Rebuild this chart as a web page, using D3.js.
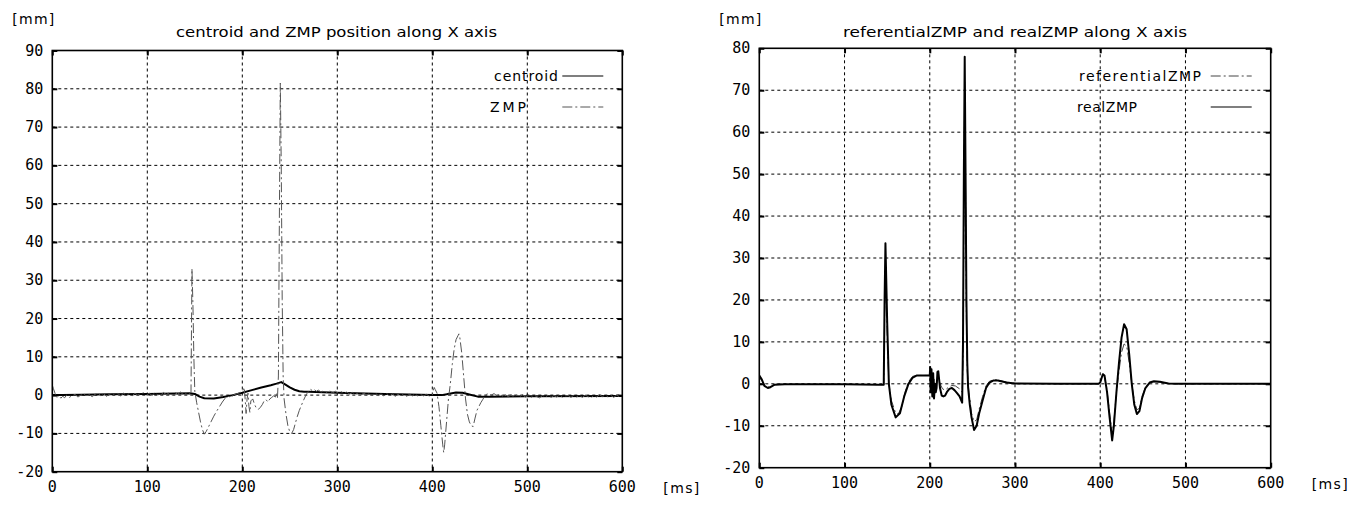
<!DOCTYPE html>
<html>
<head>
<meta charset="utf-8">
<script src="https://cdn.jsdelivr.net/npm/d3@7"></script>
<style>
  body { margin: 0; background: #fff; }
  svg { display: block; }
  .tick-label { font-family: "DejaVu Sans Mono", monospace; font-size: 15px; fill: #000; }
  .txt { font-family: "DejaVu Sans", sans-serif; font-size: 14px; fill: #000; }
</style>
</head>
<body>
<svg id="chart" width="1355" height="510"></svg>
<script>
// left chart: centroid and ZMP along X  [ms, mm]
const centroidX = [[0,0],[10,0],[30,0.1],[60,0.2],[100,0.3],[130,0.4],[145,0.5],[150,0.3],[155,-0.4],[160,-0.8],
  [170,-0.9],[180,-0.5],[190,0],[200,0.6],[210,1.3],[220,2],[230,2.6],[236,3],[241,3.4],[245,2.8],[250,2],[255,1.4],
  [260,1],[265,0.9],[270,0.85],[300,0.6],[350,0.3],[400,0],[410,0],[415,0.2],[425,0.7],[432,0.6],[440,0.1],
  [448,-0.4],[460,-0.4],[500,-0.3],[600,-0.2]];

const zmpX = [[0,2.6],[1,1.8],[3,0.4],[5,-0.6],[7,-0.1],[9,-0.8],[11,-0.3],[13,-0.7],[15,0],[18,-0.6],[21,-0.1],
  [24,0.2],[27,-0.5],[30,0],[33,0.4],[36,-0.3],[39,0.1],[42,-0.4],[45,0.2],[48,0.5],[51,-0.2],[54,0.4],[57,-0.3],
  [60,0.2],[63,0.5],[66,-0.1],[69,0.4],[72,-0.2],[75,0.5],[78,0],[81,0.4],[84,-0.2],[87,0.5],[90,0],[93,0.4],
  [96,0.6],[99,0],[102,0.5],[105,-0.1],[108,0.6],[111,0.1],[114,0],[117,0.7],[120,0.1],[123,0.6],[126,0],
  [129,0.7],[132,0.2],[135,0.8],[138,0.1],[141,0.6],[144,0.2],[146,0.8],[147,33],[148,24],[149,10],[150,1],
  [152,-2],[154,-4.5],[156,-7],[158,-9],[160,-10.2],[162,-9.5],[164,-8.5],[167,-7],[170,-5.5],[173,-4.2],[176,-3],
  [179,-1.8],[182,-0.8],[185,-0.3],[188,-0.6],[191,0.1],[194,0.3],[197,0.6],[200,0.9],[202,2],[203,-1],[204,-4.8],
  [205,-1],[206,0.5],[207,-3],[208,-4.5],[209,-1.5],[211,-1],[213,-2.5],[215,-3.5],[217,-3.7],[219,-3.2],
  [221,-2.5],[223,-1.5],[225,-1.2],[227,-1.8],[229,-1],[231,-0.6],[233,-0.2],[235,-0.5],[236,0.5],[237,-0.8],
  [238,5],[239,45],[240,81.5],[241,60],[242,25],[243,5],[244,-1],[246,-5],[248,-8],[250,-9.6],[252,-10],[254,-9],
  [256,-7.2],[258,-5.5],[260,-4],[262,-2.8],[264,-1.6],[266,-0.5],[268,0.4],[270,1.2],[272,1.5],[274,1.1],
  [276,1.4],[278,1],[280,1.3],[283,0.8],[286,1.2],[289,0.7],[292,1.1],[295,0.6],[298,1],[301,0.5],[304,0.9],
  [307,0.4],[310,0.8],[313,0.3],[316,0.7],[319,0.2],[322,0.6],[325,0.1],[328,0.5],[331,0],[334,0.4],[337,0],
  [340,0.5],[343,-0.1],[346,0.3],[349,-0.2],[352,0.4],[355,-0.1],[358,0.3],[361,-0.3],[364,0.2],[367,-0.2],[370,0.3],
  [373,-0.3],[376,0.2],[379,-0.2],[382,0.3],[385,-0.3],[388,0.1],[391,-0.2],[394,0.2],[397,-0.3],[400,0],[401,1.2],
  [402,2],[403,1.5],[405,0.5],[407,-3],[409,-8],[411,-13],[412,-15],[413,-13],[415,-7],[417,-1],[419,3],[421,8],
  [423,12],[425,14.5],[427,15.5],[428,16],[429,15],[431,11],[433,5],[435,-1],[437,-5],[439,-7],[441,-8],
  [443,-8.2],[445,-6],[447,-4],[449,-3],[451,-2],[453,-1.2],[455,-0.3],[457,0.2],[459,0.4],[462,0],[465,0.4],
  [468,-0.2],[471,0.3],[474,-0.3],[477,0.1],[480,-0.4],[483,0.1],[486,-0.5],[489,0],[492,-0.4],[495,0.1],[498,-0.5],
  [501,-0.1],[504,-0.6],[507,0],[510,-0.4],[513,-0.7],[516,-0.1],[519,-0.5],[522,0],[525,-0.6],[528,-0.1],
  [531,-0.5],[534,0],[537,-0.6],[540,-0.2],[543,-0.1],[546,-0.6],[549,0],[552,-0.5],[555,-0.1],[558,-0.6],
  [561,0],[564,-0.4],[567,-0.7],[570,-0.1],[573,-0.5],[576,0.1],[579,-0.4],[582,0],[585,-0.5],[588,-0.1],
  [591,-0.6],[594,0],[597,-0.4],[600,-0.2]];

// right chart: referential ZMP and real ZMP along X
const refZmpX = [[0,1.5],[3,0.8],[6,-0.3],[10,-0.8],[14,-0.5],[20,-0.1],[100,-0.1],[146,-0.2],[147,15],[148,30],
  [150,12],[152,0],[155,-4],[160,-7],[163,-7.2],[167,-5.5],[171,-2],[175,0.5],[180,1.8],[185,2],[200,2],[201,3],
  [202,-1],[203,2],[204,-2],[205,1.5],[206,-2],[208,0],[210,2],[212,0],[215,-1.2],[218,-1.5],[222,-0.8],
  [226,-0.4],[230,-0.5],[235,-1.2],[238,-2],[239,5],[240,40],[241,72],[242,45],[243,15],[244,3],[246,-2],
  [249,-7],[252,-9],[255,-8.6],[258,-6],[262,-3],[266,-0.5],[270,0.6],[275,1],[280,0.9],[290,0.4],[300,0.1],
  [350,0],[398,0],[400,0.2],[403,2],[405,1.8],[408,-1.5],[411,-7],[414,-12],[416,-9],[419,-2],[422,3],[425,7.5],
  [428,9.5],[431,9],[434,5],[437,0],[440,-4],[443,-6.2],[446,-5.8],[449,-3],[453,-0.8],[458,0.3],[463,0.5],
  [470,0.4],[480,0.1],[490,0],[600,0]];

const realZmpX = [[0,2],[3,1],[6,-0.5],[10,-1],[13,-0.8],[18,-0.2],[30,-0.1],[100,-0.1],[140,-0.2],[146,-0.2],
  [147,20],[148,33.5],[150,15],[152,0],[155,-5],[160,-8],[165,-7],[170,-3],[175,0],[180,1.5],[185,2],[199,2],
  [200,2],[200.5,4],[201,-2],[202,3.5],[203,-3],[204,2.5],[205,-3.5],[206,0],[207,-2],[208,-1],[209,2.8],[210,3],
  [211,1],[212,-1],[214,-2.8],[216,-3],[218,-2.8],[220,-2],[223,-1.2],[226,-1],[229,-1.5],[232,-2.2],[235,-3],
  [237,-4],[238,-4.5],[239,10],[240,50],[241,78],[242,50],[243,20],[244,5],[245,-1],[247,-5],[249,-8],[252,-11],
  [255,-10],[258,-7],[262,-4],[266,-1],[270,0.3],[275,0.8],[280,0.8],[290,0.3],[300,0.1],[350,0],[398,0],
  [400,0.3],[403,2.3],[405,2],[408,-2],[411,-8],[414,-13.5],[416,-10],[419,-2],[422,5],[425,11],[428,14.2],
  [431,13],[434,7],[437,0],[440,-5],[443,-7.2],[446,-6.5],[449,-3.5],[453,-1],[458,0.3],[463,0.6],[470,0.5],
  [480,0.1],[490,0],[600,0]];

const xTicks = [0, 100, 200, 300, 400, 500, 600];
const yTicksLeft = [-20, -10, 0, 10, 20, 30, 40, 50, 60, 70, 80, 90];
const yTicksRight = [-20, -10, 0, 10, 20, 30, 40, 50, 60, 70, 80];

const titleLeft = "centroid and ZMP position along X axis";
const titleRight = "referentialZMP and realZMP along X axis";

const svg = d3.select("#chart");

function drawChart(cfg) {
    let x = d3.scaleLinear().domain([0, 600]).range([cfg.left, cfg.right]);
    let y = d3.scaleLinear().domain(cfg.yDomain).range([cfg.bottom, cfg.top]);
    let width = cfg.right - cfg.left;
    let height = cfg.bottom - cfg.top;
    let g = svg.append("g");

    // dashed grid
    let inner = d => d > x.domain()[0] && d < x.domain()[1];
    let innerY = d => d > y.domain()[0] && d < y.domain()[1];
    g.append("g").selectAll("line").data(xTicks.filter(inner)).enter().append("line")
        .attr("x1", d => x(d)).attr("x2", d => x(d))
        .attr("y1", cfg.top).attr("y2", cfg.bottom)
        .attr("stroke", "#000").attr("stroke-width", 1).attr("stroke-dasharray", "3,3");
    g.append("g").selectAll("line").data(cfg.yTicks.filter(innerY)).enter().append("line")
        .attr("x1", cfg.left).attr("x2", cfg.right)
        .attr("y1", d => y(d)).attr("y2", d => y(d))
        .attr("stroke", "#000").attr("stroke-width", 1).attr("stroke-dasharray", "3,3");

    // inward ticks on all four sides
    let tickSize = 5;
    let axB = g.append("g").attr("transform", "translate(0," + cfg.bottom + ")")
        .call(d3.axisBottom(x).tickValues(xTicks).tickSize(-tickSize).tickFormat(""));
    let axT = g.append("g").attr("transform", "translate(0," + cfg.top + ")")
        .call(d3.axisTop(x).tickValues(xTicks).tickSize(-tickSize).tickFormat(""));
    let axL = g.append("g").attr("transform", "translate(" + cfg.left + ",0)")
        .call(d3.axisLeft(y).tickValues(cfg.yTicks).tickSize(-tickSize).tickFormat(""));
    let axR = g.append("g").attr("transform", "translate(" + cfg.right + ",0)")
        .call(d3.axisRight(y).tickValues(cfg.yTicks).tickSize(-tickSize).tickFormat(""));
    [axB, axT, axL, axR].forEach(a => {
        a.select(".domain").remove();
        a.selectAll("line").attr("stroke", "#000").attr("stroke-width", 2);
    });

    // tick labels
    g.append("g").selectAll("text").data(xTicks).enter().append("text")
        .attr("class", "tick-label")
        .attr("x", d => x(d)).attr("y", cfg.bottom + 20)
        .attr("text-anchor", "middle")
        .text(d => d);
    g.append("g").selectAll("text").data(cfg.yTicks).enter().append("text")
        .attr("class", "tick-label")
        .attr("x", cfg.left - 9).attr("y", d => y(d) + 5)
        .attr("text-anchor", "end")
        .text(d => d);

    // unit labels and title
    g.append("text").attr("class", "txt").attr("x", cfg.left - 40).attr("y", 24)
        .attr("textLength", 42).attr("lengthAdjust", "spacing").text("[mm]");
    g.append("text").attr("class", "txt").attr("x", cfg.right + 41).attr("y", cfg.bottom + 21)
        .attr("textLength", 36).attr("lengthAdjust", "spacing").text("[ms]");
    g.append("text").attr("class", "txt").attr("x", cfg.titleX).attr("y", 37)
        .attr("textLength", cfg.titleLen).attr("lengthAdjust", "spacingAndGlyphs").text(cfg.title);

    // series
    let clipId = "clip" + cfg.id;
    svg.append("clipPath").attr("id", clipId).append("rect")
        .attr("x", cfg.left).attr("y", cfg.top).attr("width", width).attr("height", height);
    let line = d3.line().x(d => x(d[0])).y(d => y(d[1]));
    let plot = g.append("g").attr("clip-path", "url(#" + clipId + ")");
    cfg.series.forEach(s => {
        plot.append("path").datum(s.data)
            .attr("d", line)
            .attr("fill", "none")
            .attr("stroke", s.color)
            .attr("stroke-width", s.width)
            .attr("stroke-linejoin", "round")
            .attr("stroke-dasharray", s.dash);
    });

    // frame
    g.append("rect").attr("x", cfg.left).attr("y", cfg.top)
        .attr("width", width).attr("height", height)
        .attr("fill", "none").attr("stroke", "#000").attr("stroke-width", 1.6);

    // legend
    cfg.series.forEach((s, i) => {
        let ly = 76 + i * 31;
        let t = g.append("text").attr("class", "txt")
            .attr("x", s.legX).attr("y", ly + 5)
            .text(s.name);
        if (s.legLen) t.attr("textLength", s.legLen).attr("lengthAdjust", "spacing");
        g.append("line")
            .attr("x1", cfg.right - 60).attr("x2", cfg.right - 19)
            .attr("y1", ly).attr("y2", ly)
            .attr("stroke", s.color).attr("stroke-width", s.legWidth)
            .attr("stroke-dasharray", s.dash);
    });
}

drawChart({
    id: "L", left: 52.3, right: 622.3, top: 50.5, bottom: 471.7,
    yDomain: [-20, 90], yTicks: yTicksLeft,
    title: titleLeft, titleX: 176, titleLen: 321,
    series: [
        {name: "centroid", data: centroidX, color: "#000", width: 2, legWidth: 1.2, dash: null, legX: 494, legLen: 64},
        {name: "ZMP", data: zmpX, color: "#555", width: 1, legWidth: 1, dash: "10,3,2,3", legX: 490, legLen: 36}
    ]
});

drawChart({
    id: "R", left: 759.3, right: 1270.7, top: 48.3, bottom: 467.7,
    yDomain: [-20, 80], yTicks: yTicksRight,
    title: titleRight, titleX: 843, titleLen: 344,
    series: [
        {name: "referentialZMP", data: refZmpX, color: "#444", width: 1, legWidth: 1, dash: "10,3,2,3", legX: 1079, legLen: 122},
        {name: "realZMP", data: realZmpX, color: "#000", width: 2, legWidth: 1.2, dash: null, legX: 1077, legLen: 60}
    ]
});
</script>
</body>
</html>
